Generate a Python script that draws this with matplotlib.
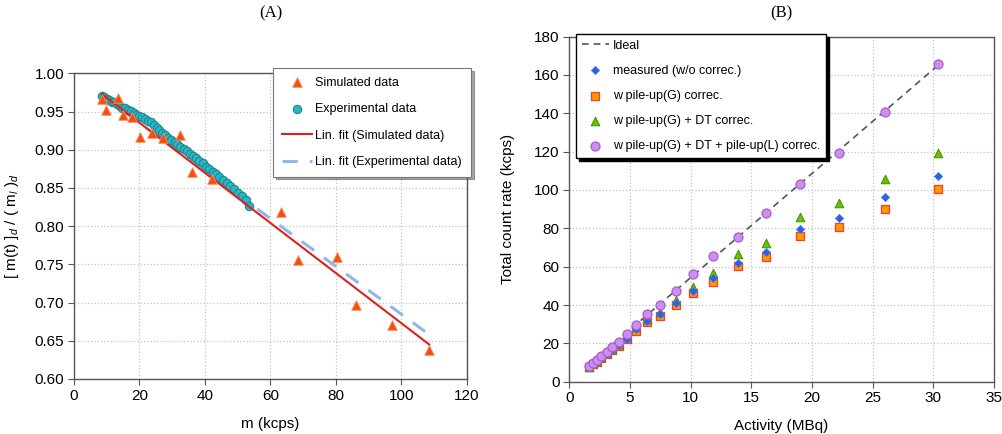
import matplotlib
matplotlib.use('Agg')
from matplotlib import pyplot as plt

plt.rcParams['font.family'] = ['Liberation Sans', 'DejaVu Sans']
plt.rcParams['mathtext.fontset'] = 'custom'
plt.rcParams['mathtext.rm'] = 'Liberation Sans'
plt.rcParams['mathtext.it'] = 'Liberation Sans:italic'

# ---- panel A data ----
sim_x = [8.5, 9.8, 13.4, 15.0, 17.6, 20.1, 23.7, 27.2, 32.3, 36.0, 42.0,
         63.1, 68.4, 80.4, 86.2, 97.2, 108.3]
sim_y = [0.966, 0.952, 0.968, 0.946, 0.943, 0.916, 0.922, 0.915, 0.919, 0.871, 0.862,
         0.819, 0.756, 0.759, 0.697, 0.671, 0.638]

exp_x = [8.5, 9.2, 10.0, 10.8, 11.5, 12.3, 13.2, 14.0, 14.8, 15.7, 16.5, 17.3,
         18.2, 19.0, 19.9, 20.8, 21.6, 22.5, 23.4, 24.3, 25.2, 26.1, 27.0, 27.9,
         28.8, 29.7, 30.7, 31.6, 32.5, 33.5, 34.4, 35.4, 36.3, 37.3, 38.3, 39.3,
         40.3, 41.3, 42.3, 43.3, 44.4, 45.5, 46.6, 47.7, 48.8, 50.0, 51.2, 52.4, 53.4]
exp_y = [0.970, 0.969, 0.967, 0.965, 0.963, 0.962, 0.960, 0.957, 0.955, 0.954, 0.952, 0.951,
         0.948, 0.946, 0.944, 0.943, 0.940, 0.938, 0.936, 0.932, 0.929, 0.926, 0.922, 0.919,
         0.915, 0.913, 0.910, 0.907, 0.904, 0.901, 0.898, 0.895, 0.892, 0.889, 0.885, 0.882,
         0.878, 0.875, 0.871, 0.868, 0.864, 0.860, 0.857, 0.853, 0.849, 0.844, 0.839, 0.834, 0.826]

fit_x = [8.5, 108.5]
sim_fit = [0.973, 0.645]
exp_fit = [0.971, 0.658]

# ---- panel B data ----
activity = [1.65, 1.98, 2.26, 2.61, 3.08, 3.50, 4.12, 4.73, 5.47, 6.38, 7.48, 8.77,
            10.22, 11.87, 13.93, 16.2, 19.0, 22.2, 26.0, 30.4]
corr_L = [8.2, 9.9, 11.3, 13.4, 15.6, 18.1, 20.9, 24.9, 29.6, 35.2, 39.9, 47.3,
          56.0, 65.6, 75.3, 87.8, 103.1, 119.1, 140.5, 165.7]
corr_DT = [7.9, 9.5, 10.8, 12.7, 14.8, 17.1, 19.6, 23.2, 28.4, 32.5, 36.5, 42.6,
           49.6, 56.9, 66.6, 72.5, 86.1, 93.1, 105.7, 119.5]
measured = [7.8, 9.3, 10.6, 12.4, 14.4, 16.6, 19.0, 22.5, 27.3, 31.8, 35.3, 41.0,
            47.5, 53.9, 62.1, 67.8, 79.7, 85.2, 96.2, 107.3]
corr_G = [7.7, 9.2, 10.5, 12.2, 14.2, 16.3, 18.7, 22.1, 26.6, 31.3, 34.4, 40.0,
          46.1, 52.2, 60.4, 65.2, 76.0, 80.9, 90.2, 100.4]
ideal_x = [1.5, 30.5]
ideal_y = [8.1, 165.6]

fig = plt.figure(figsize=(10.03, 4.34), dpi=100)
W, H = 1003.0, 434.0

def style_axes(ax):
    ax.grid(True, linestyle=':', color='#c4c4c4', linewidth=0.9)
    ax.set_axisbelow(True)
    for s in ax.spines.values():
        s.set_color('#555555')
        s.set_linewidth(1.0)
    ax.tick_params(direction='out', length=4, width=0.8, color='#555555',
                   labelsize=11, pad=3)

# ---------- (A) ----------
axA = fig.add_axes([74 / W, 1 - 379 / H, (467 - 74) / W, (379 - 73.3) / H])
style_axes(axA)
axA.plot(fit_x, exp_fit, color='#8fb8e8', lw=2.2, dashes=(5, 4), zorder=2,
         label='Lin. fit (Experimental data)')
axA.scatter(exp_x, exp_y, s=36, marker='o', facecolor='#2ab7c2', edgecolor='#1d8897',
            linewidth=0.8, zorder=3, label='Experimental data')
axA.plot(fit_x, sim_fit, color='#e0201b', lw=1.5, zorder=4, label='Lin. fit (Simulated data)')
axA.scatter(sim_x, sim_y, s=48, marker='^', facecolor='#f2500f', edgecolor='#ff8a60',
            linewidth=0.6, zorder=5, label='Simulated data')
axA.set_xlim(0, 120)
axA.set_ylim(0.60, 1.00)
axA.set_xticks([0, 20, 40, 60, 80, 100, 120])
axA.set_yticks([0.60, 0.65, 0.70, 0.75, 0.80, 0.85, 0.90, 0.95, 1.00])
axA.set_yticklabels(['%.2f' % v for v in axA.get_yticks()])
axA.set_xlabel('m (kcps)', fontsize=11, labelpad=10)
axA.set_ylabel('[ m(t) ]$_d$ / ( m$_l$ )$_d$', fontsize=11, labelpad=10)
hA, lA = axA.get_legend_handles_labels()
order = [3, 1, 2, 0]
legA = axA.legend([hA[i] for i in order], [lA[i] for i in order],
                  loc='upper left', bbox_to_anchor=(273 / W, 1 - 68 / H),
                  bbox_transform=fig.transFigure, fontsize=9.0, frameon=True,
                  fancybox=False, shadow=True, labelspacing=1.15, handlelength=2.4,
                  borderpad=0.7, handletextpad=0.3, borderaxespad=0)
legA.get_frame().set_edgecolor('#777777')
legA.get_frame().set_linewidth(0.8)
fig.text((74 + 467) / 2 / W, 1 - 13 / H, '(A)', ha='center', va='center',
         fontsize=12, family='Liberation Serif')

# ---------- (B) ----------
axB = fig.add_axes([569.3 / W, 1 - 381.7 / H, (993.9 - 569.3) / W, (381.7 - 36.6) / H])
style_axes(axB)
axB.plot(ideal_x, ideal_y, color='#555555', lw=1.2, dashes=(4, 3), zorder=2, label='Ideal')
axB.scatter(activity, measured, s=18, marker='D', facecolor='#2f5fe6', edgecolor='#4a78f0',
            linewidth=0.5, zorder=4, label='measured (w/o correc.)')
axB.scatter(activity, corr_G, s=34, marker='s', facecolor='#ff9a00', edgecolor='#ff3b22',
            linewidth=0.9, zorder=3, label='w pile-up(G) correc.')
axB.scatter(activity, corr_DT, s=38, marker='^', facecolor='#6cc000', edgecolor='#3f8f00',
            linewidth=0.7, zorder=3, label='w pile-up(G) + DT correc.')
axB.scatter(activity, corr_L, s=42, marker='o', facecolor='#cd8ef0', edgecolor='#a55fd0',
            linewidth=0.9, zorder=5, label='w pile-up(G) + DT + pile-up(L) correc.')
axB.set_xlim(0, 35)
axB.set_ylim(0, 180)
axB.set_xticks(range(0, 36, 5))
axB.set_yticks(range(0, 181, 20))
axB.set_xlabel('Activity (MBq)', fontsize=11, labelpad=10)
axB.set_ylabel('Total count rate (kcps)', fontsize=11, labelpad=14)
legB = axB.legend(loc='upper left', bbox_to_anchor=(576 / W, 1 - 34 / H),
                  bbox_transform=fig.transFigure, fontsize=9.0, frameon=True,
                  fancybox=False, shadow={'color': 'black', 'alpha': 1.0},
                  labelspacing=1.05, handlelength=2.2, borderpad=0.45,
                  handletextpad=0.3, borderaxespad=0, framealpha=1)
legB.get_frame().set_edgecolor('black')
legB.get_frame().set_linewidth(1.0)
fig.text((569.3 + 993.9) / 2 / W, 1 - 13 / H, '(B)', ha='center', va='center',
         fontsize=12, family='Liberation Serif')

fig.savefig('out.png', dpi=100)
